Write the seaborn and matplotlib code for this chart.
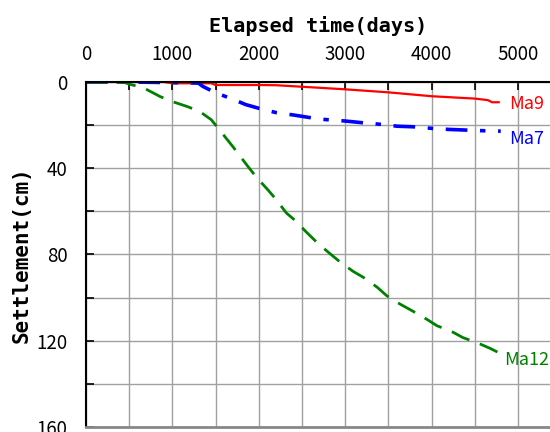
import matplotlib
matplotlib.use("Agg")
import matplotlib.pyplot as plt
import pandas as pd
import seaborn as sns
from matplotlib.ticker import MultipleLocator

# settlement readings (days, cm)
ma9_days = [0, 900, 1000, 1450, 1500, 2000, 2200, 2500, 3000, 3500, 4000, 4500, 4650, 4700, 4780]
ma9_cm = [0, 0, 0.6, 0.6, 1.4, 1.4, 1.5, 2.2, 3.4, 4.8, 6.6, 7.7, 8.4, 9.4, 9.4]

ma7_days = [0, 500, 1000, 1300, 1350, 1500, 1700, 1850, 2000, 2200, 2400, 2700, 3000,
            3200, 3400, 3600, 3800, 4000, 4200, 4400, 4600, 4800]
ma7_cm = [0, 0, 0.3, 0.5, 2, 5, 8, 10.5, 12.2, 14.2, 15.3, 17.2, 18.1,
          18.9, 19.6, 20.5, 20.8, 21.5, 22, 22.3, 22.6, 22.8]

ma12_days = [0, 450, 500, 660, 860, 1000, 1180, 1320, 1450, 1550, 1700, 1880, 1980, 2100,
             2190, 2320, 2420, 2550, 2670, 2820, 2920, 3090, 3210, 3370, 3480, 3630, 3770,
             3950, 4060, 4250, 4360, 4560, 4680, 4770]
ma12_cm = [0, 0.3, 1, 2.6, 6.8, 9.1, 11.5, 13.8, 17.5, 22.5, 30, 39.5, 44.5, 49.8,
           54, 60.8, 64.2, 69.6, 74.3, 79.5, 82.8, 87.8, 90.6, 95.2, 99.1, 102.9, 106,
           110.2, 113, 116.1, 118.5, 121.5, 123.6, 125.4]

names = ["Ma9", "Ma7", "Ma12"]
label_pos = [(4900, 10.1), (4900, 26.5), (4840, 128.8)]

sns.set_style("white")
plt.rcParams['font.family'] = ['Noto Sans CJK JP', 'DejaVu Sans']

fig = plt.figure(figsize=(5.5, 4.32), dpi=100)
ax = fig.add_axes([0.1564, 0.0116, 0.8436, 0.7986])

df9 = pd.DataFrame({"days": ma9_days, "cm": ma9_cm})
df7 = pd.DataFrame({"days": ma7_days, "cm": ma7_cm})
df12 = pd.DataFrame({"days": ma12_days, "cm": ma12_cm})

sns.lineplot(data=df9, x="days", y="cm", ax=ax, color="#ff0000", lw=1.6, sort=False)
sns.lineplot(data=df7, x="days", y="cm", ax=ax, color="#0000ff", lw=2.6, sort=False,
             linestyle=(0, (6, 3.5, 1.5, 3.5)))
sns.lineplot(data=df12, x="days", y="cm", ax=ax, color="#008000", lw=2.0, sort=False,
             linestyle=(0, (7, 4)))

colors = ["#ff0000", "#0000ff", "#008000"]
for name, (x, y), c in zip(names, label_pos, colors):
    ax.text(x, y, name, color=c, fontsize=13, va="center", ha="left")

ax.set_xlim(0, 5370)
ax.set_ylim(160, 0)
ax.xaxis.tick_top()
ax.xaxis.set_label_position("top")
ax.xaxis.set_major_locator(MultipleLocator(1000))
ax.xaxis.set_minor_locator(MultipleLocator(500))
ax.yaxis.set_major_locator(MultipleLocator(40))
ax.yaxis.set_minor_locator(MultipleLocator(20))
ax.grid(True, which="both", color="#a0a0a0", lw=1.0)
ax.set_axisbelow(True)
ax.tick_params(which="both", direction="in", length=6, width=1.2, colors="black",
               top=True, left=True, bottom=False, labelsize=13.5)
ax.tick_params(axis="y", pad=13.5)
ax.tick_params(axis="x", pad=12)
for s in ["top", "left"]:
    ax.spines[s].set_color("black")
    ax.spines[s].set_linewidth(1.5)
ax.spines["right"].set_visible(False)
ax.spines["bottom"].set_color("#888888")
ax.spines["bottom"].set_linewidth(2)

lab_font = dict(family="DejaVu Sans Mono", fontweight="bold", color="black")
ax.set_xlabel("Elapsed time(days)", fontsize=14.5, labelpad=9, **lab_font)
ax.set_ylabel("Settlement(cm)", fontsize=15, labelpad=3, **lab_font)

fig.savefig("out.png", dpi=100)
